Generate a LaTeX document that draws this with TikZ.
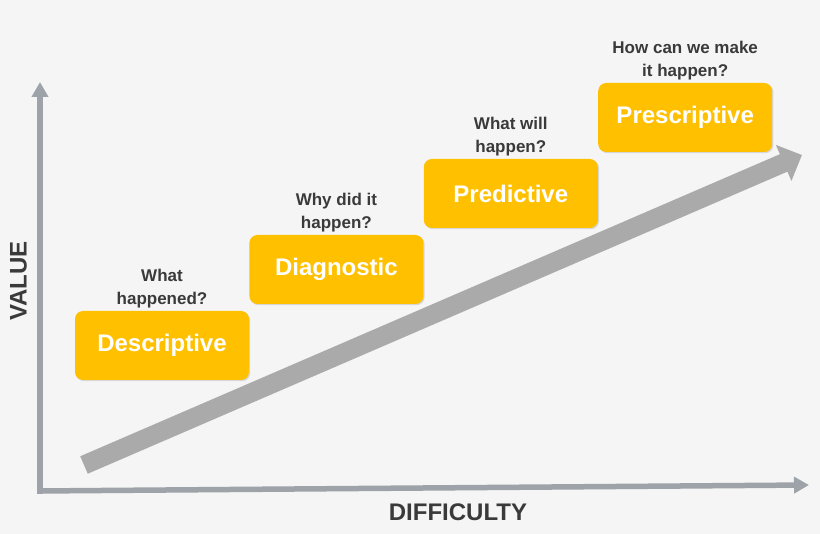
\documentclass[tikz,border=0pt]{standalone}
\usepackage{fontspec}
\setmainfont{Liberation Sans}
\usetikzlibrary{arrows.meta,positioning,shadows}
\definecolor{bgcol}{HTML}{F5F5F5}
\definecolor{boxcol}{HTML}{FFC000}
\definecolor{axiscol}{HTML}{9DA3A8}
\definecolor{arrowcol}{HTML}{AAAAAA}
\definecolor{textcol}{HTML}{3A3A3A}

\begin{document}
\begin{tikzpicture}[x=1pt, y=-1pt]
        \tikzstyle{block} = [rectangle, fill=boxcol, rounded corners=8pt, minimum width=174pt, minimum height=69pt, text=white, font=\fontsize{24}{28}\selectfont\bfseries, drop shadow={shadow xshift=1.2pt, shadow yshift=-1.2pt, opacity=0.25}]
        \tikzstyle{question} = [align=center, inner sep=0pt, text=textcol, font=\fontsize{17}{23}\selectfont\bfseries]
        \tikzstyle{axis} = [line width=5.5pt, draw=axiscol, -{Triangle[length=15pt, width=16pt]}]
        \tikzstyle{axislabel} = [text=textcol, font=\fontsize{24}{28}\selectfont\bfseries]
        \useasboundingbox[fill=bgcol] (0,0) rectangle (820,534);
        % axes
        \coordinate (origin) at (40,491);
        \coordinate (vtop) at (40,82);
        \coordinate (htip) at (809,485);
        \draw[axis] ([yshift=-2.75pt]origin) -- (vtop);
        \draw[axis] ([xshift=-2.75pt]origin) -- (htip);
        \node (vlabel) [axislabel, rotate=90] at (18.5,281) {VALUE};
        \node (hlabel) [axislabel] at (458,512.5) {DIFFICULTY};
        % rising arrow
        \coordinate (tail) at (84,465);
        \coordinate (tip) at (802,155);
        \draw[line width=19pt, draw=arrowcol, -{Triangle[length=20pt, width=38pt]}] (tail) -- (tip);
        % steps
        \node (desc) [block] at (162,345.5) {Descriptive};
        \node (diag) [block, right=0pt of desc, yshift=76pt] {Diagnostic};
        \node (pred) [block, right=0pt of diag, yshift=76pt] {Predictive};
        \node (presc) [block, right=0pt of pred, yshift=76pt] {Prescriptive};
        \node (q1) [question, above=2.5pt of desc] {What\\happened?};
        \node (q2) [question, above=2.5pt of diag] {Why did it\\happen?};
        \node (q3) [question, above=2.5pt of pred] {What will\\happen?};
        \node (q4) [question, above=2.5pt of presc] {How can we make\\it happen?};
    \end{tikzpicture}
\end{document}
